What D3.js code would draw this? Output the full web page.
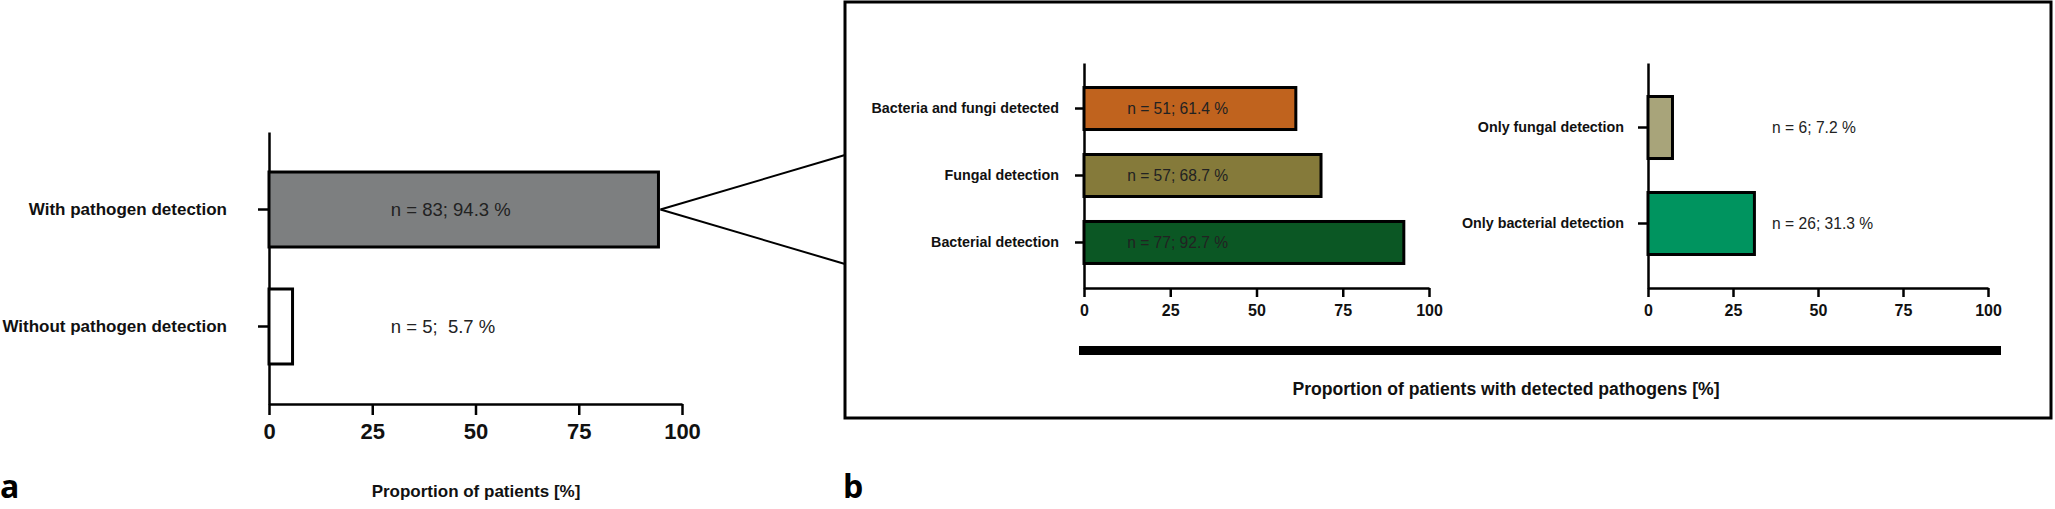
<!DOCTYPE html>
<html>
<head>
<meta charset="utf-8">
<script src="https://cdn.jsdelivr.net/npm/d3@7"></script>
<style>
  body { margin: 0; background: #fff; }
  svg { display: block; font-family: "Liberation Sans", Arial, sans-serif; }
</style>
</head>
<body>
<div id="chart"></div>
<script>
// panel a
var catsA = ["With pathogen detection", "Without pathogen detection"];
var pctA = [94.3, 5.7];
var labelsA = ["n = 83; 94.3 %", "n = 5;  5.7 %"];
var colorsA = ["#7d7f80", "#ffffff"];

// panel b, left
var catsB1 = ["Bacteria and fungi detected", "Fungal detection", "Bacterial detection"];
var pctB1 = [61.4, 68.7, 92.7];
var labelsB1 = ["n = 51; 61.4 %", "n = 57; 68.7 %", "n = 77; 92.7 %"];
var colorsB1 = ["#c0631e", "#857a3a", "#0b5724"];

// panel b, right
var catsB2 = ["Only fungal detection", "Only bacterial detection"];
var pctB2 = [7.2, 31.3];
var labelsB2 = ["n = 6; 7.2 %", "n = 26; 31.3 %"];
var colorsB2 = ["#a8a47a", "#00945f"];

var ticks = [0, 25, 50, 75, 100];

var w = 2055, h = 509;

var svg = d3.select("#chart").append("svg")
	.attr("width", w)
	.attr("height", h)

function panel(opt) {
	var x = d3.scaleLinear()
		.domain([0, 100])
		.range(opt.xr)

	var y = d3.scaleBand()
		.domain(opt.cats)
		.range(opt.yr)
		.paddingInner(opt.pi)
		.paddingOuter(opt.po)

	var rows = opt.cats.map(function(c, i) {
		return {cat: c, pct: opt.pct[i], label: opt.labels[i], color: opt.colors[i]};
	})

	var xAxis = d3.axisBottom(x).tickValues(ticks).tickSize(opt.xt).tickSizeOuter(0).tickPadding(8);
	var yAxis = d3.axisLeft(y).tickSize(opt.yt).tickSizeOuter(0).tickPadding(opt.ypad);

	var gx = svg.append("g")
		.attr("transform", "translate(0," + opt.yr[1] + ")")
		.call(xAxis)
	gx.selectAll("text")
		.style("font-size", opt.tickFont + "px")
		.style("font-weight", 700)
		.style("fill", "#111")

	var gy = svg.append("g")
		.attr("transform", "translate(" + opt.xr[0] + ",0)")
		.call(yAxis)
	gy.selectAll("text")
		.style("font-size", opt.catFont + "px")
		.style("font-weight", 700)
		.style("fill", "#111")

	svg.selectAll(".domain, .tick line")
		.attr("stroke", "#000")
		.attr("stroke-width", 2.5)

	svg.selectAll(".bar" + opt.id)
		.data(rows)
		.enter()
		.append("rect")
		.attr("class", "bar" + opt.id)
		.attr("x", x(0))
		.attr("y", function(d) { return y(d.cat) })
		.attr("width", function(d) { return x(d.pct) - x(0) })
		.attr("height", y.bandwidth())
		.style("fill", function(d) { return d.color })
		.style("stroke", "#000")
		.style("stroke-width", 3)

	svg.selectAll(".val" + opt.id)
		.data(rows)
		.enter()
		.append("text")
		.attr("class", "val" + opt.id)
		.text(function(d) { return d.label })
		.attr("x", x(opt.labelAt))
		.attr("y", function(d) { return y(d.cat) + y.bandwidth() / 2 })
		.attr("dy", ".35em")
		.style("white-space", "pre")
		.style("font-size", opt.valFont + "px")
		.style("fill", "#222")

	return {x: x, y: y};
}

var a = panel({id: "a", cats: catsA, pct: pctA, labels: labelsA, colors: colorsA,
	xr: [269, 682], yr: [132, 404], pi: 0.359, po: 0.342,
	xt: 11, yt: 11, ypad: 31, tickFont: 22, catFont: 17, valFont: 18.5, labelAt: 29.5})

// zoom box round panel b
svg.append("rect")
	.attr("x", 845)
	.attr("y", 2)
	.attr("width", 1206)
	.attr("height", 416)
	.style("fill", "none")
	.style("stroke", "#000")
	.style("stroke-width", 3)

var apexX = a.x(pctA[0]) + 2,
	apexY = a.y(catsA[0]) + a.y.bandwidth() / 2;

svg.append("line")
	.attr("x1", apexX).attr("y1", apexY)
	.attr("x2", 845).attr("y2", 155)
	.style("stroke", "#000").style("stroke-width", 2)
svg.append("line")
	.attr("x1", apexX).attr("y1", apexY)
	.attr("x2", 845).attr("y2", 264)
	.style("stroke", "#000").style("stroke-width", 2)

panel({id: "b1", cats: catsB1, pct: pctB1, labels: labelsB1, colors: colorsB1,
	xr: [1084, 1429], yr: [63, 288], pi: 0.373, po: 0.366,
	xt: 9, yt: 9, ypad: 16, tickFont: 16, catFont: 14.3, valFont: 15.6, labelAt: 12.5})

panel({id: "b2", cats: catsB2, pct: pctB2, labels: labelsB2, colors: colorsB2,
	xr: [1648, 1988], yr: [63, 288], pi: 0.354, po: 0.349,
	xt: 9, yt: 10, ypad: 14, tickFont: 16, catFont: 14.3, valFont: 15.6, labelAt: 36.5})

// shared bar under panel b
svg.append("rect")
	.attr("x", 1079)
	.attr("y", 346)
	.attr("width", 922)
	.attr("height", 9)
	.style("fill", "#000")

svg.append("text")
	.text("Proportion of patients [%]")
	.attr("x", 476)
	.attr("y", 491)
	.attr("dy", ".35em")
	.style("text-anchor", "middle")
	.style("font-size", "17px")
	.style("font-weight", 700)
	.style("fill", "#111")

svg.append("text")
	.text("Proportion of patients with detected pathogens [%]")
	.attr("x", 1506)
	.attr("y", 389)
	.attr("dy", ".35em")
	.style("text-anchor", "middle")
	.style("font-size", "17.6px")
	.style("font-weight", 700)
	.style("fill", "#111")

svg.append("text")
	.text("a")
	.attr("x", 0)
	.attr("y", 498)
	.style("font-family", "'Open Sans', sans-serif")
	.style("font-size", "32px")
	.style("font-weight", 700)

svg.append("text")
	.text("b")
	.attr("x", 843)
	.attr("y", 498)
	.style("font-family", "'Open Sans', sans-serif")
	.style("font-size", "32px")
	.style("font-weight", 700)
</script>
</body>
</html>
